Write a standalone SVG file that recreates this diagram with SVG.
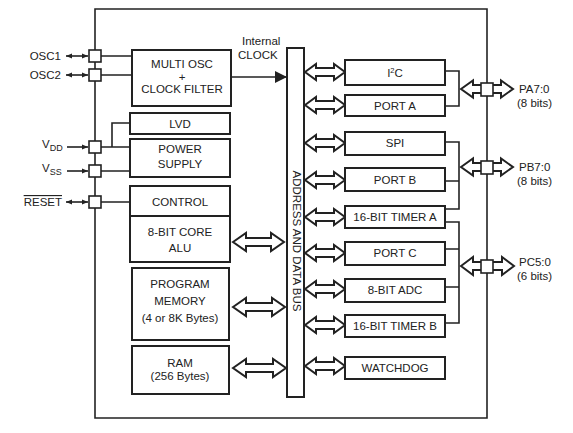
<svg xmlns="http://www.w3.org/2000/svg" width="573" height="433" viewBox="0 0 573 433">
<defs>
<style>
.box{fill:#fff;stroke:#222;stroke-width:2}
.ln{fill:none;stroke:#222;stroke-width:1.6}
.pin{fill:#fff;stroke:#222;stroke-width:1.6}
.fat{fill:#fff;stroke:#222;stroke-width:2;stroke-linejoin:miter}
text{font-family:"Liberation Sans",Arial,sans-serif;font-size:11.5px;fill:#222;text-anchor:middle}
.lt{text-anchor:start}
.rt{text-anchor:end}
</style>
<marker id="ah" viewBox="0 0 10 10" refX="10" refY="5" markerWidth="6" markerHeight="6" orient="auto-start-reverse" markerUnits="userSpaceOnUse"><path d="M0,1 L10,5 L0,9 Z" fill="#222"/></marker>
<marker id="bh" viewBox="0 0 10 10" refX="10" refY="5" markerWidth="12" markerHeight="12" orient="auto" markerUnits="userSpaceOnUse"><path d="M0,0 L10,5 L0,10 Z" fill="#222"/></marker>
</defs>
<rect width="573" height="433" fill="#fff"/>

<g id="outer"><path class="ln" d="M95,9 H487 V418 H95 Z"/></g>

<g id="connectors">
<line class="ln" x1="66" y1="56" x2="88" y2="56" marker-start="url(#ah)" marker-end="url(#ah)"/>
<line class="ln" x1="66" y1="75" x2="88" y2="75" marker-start="url(#ah)" marker-end="url(#ah)"/>
<line class="ln" x1="67" y1="147" x2="88" y2="147" marker-end="url(#ah)"/>
<line class="ln" x1="67" y1="171" x2="88" y2="171" marker-end="url(#ah)"/>
<line class="ln" x1="66" y1="202" x2="88" y2="202" marker-start="url(#ah)" marker-end="url(#ah)"/>
<path class="ln" d="M101,56 H132 M101,75 H132 M101,147 H130 M112,147 V123 H130 M101,171 H130 M101,202 H130"/>
<line class="ln" x1="231" y1="77" x2="287" y2="77" marker-end="url(#bh)"/>
<path class="ln" d="M445,71 H459 V106 H445"/>
<path class="ln" d="M445,142 H459 V209 H445 M445,181 H459"/>
<path class="ln" d="M445,222 H459 V323 H445 M445,249 H459 M445,287 H459"/>
<path class="fat" d="M233,242 L246,233 L246,238 L271,238 L271,233 L284,242 L271,251 L271,246 L246,246 L246,251 Z"/>
<path class="fat" d="M233,307 L246,298 L246,303 L272,303 L272,298 L285,307 L272,316 L272,311 L246,311 L246,316 Z"/>
<path class="fat" d="M233,368 L246,359 L246,364 L273,364 L273,359 L286,368 L273,377 L273,372 L246,372 L246,377 Z"/>
<g id="busarrows">
<path class="fat" transform="translate(0,72)" d="M305,0 L316,-8 L316,-4 L334,-4 L334,-8 L345,0 L334,8 L334,4 L316,4 L316,8 Z"/>
<path class="fat" transform="translate(0,105)" d="M305,0 L316,-8 L316,-4 L334,-4 L334,-8 L345,0 L334,8 L334,4 L316,4 L316,8 Z"/>
<path class="fat" transform="translate(0,143)" d="M305,0 L316,-8 L316,-4 L334,-4 L334,-8 L345,0 L334,8 L334,4 L316,4 L316,8 Z"/>
<path class="fat" transform="translate(0,180)" d="M305,0 L316,-8 L316,-4 L334,-4 L334,-8 L345,0 L334,8 L334,4 L316,4 L316,8 Z"/>
<path class="fat" transform="translate(0,217)" d="M305,0 L316,-8 L316,-4 L334,-4 L334,-8 L345,0 L334,8 L334,4 L316,4 L316,8 Z"/>
<path class="fat" transform="translate(0,253)" d="M305,0 L316,-8 L316,-4 L334,-4 L334,-8 L345,0 L334,8 L334,4 L316,4 L316,8 Z"/>
<path class="fat" transform="translate(0,289)" d="M305,0 L316,-8 L316,-4 L334,-4 L334,-8 L345,0 L334,8 L334,4 L316,4 L316,8 Z"/>
<path class="fat" transform="translate(0,325)" d="M305,0 L316,-8 L316,-4 L334,-4 L334,-8 L345,0 L334,8 L334,4 L316,4 L316,8 Z"/>
<path class="fat" transform="translate(0,366)" d="M305,0 L316,-8 L316,-4 L334,-4 L334,-8 L345,0 L334,8 L334,4 L316,4 L316,8 Z"/>
</g>
<path class="fat" transform="translate(0,89)" d="M461,0 L473,-8.5 L473,-4 L501,-4 L501,-8.5 L513,0 L501,8.5 L501,4 L473,4 L473,8.5 Z"/>
<path class="fat" transform="translate(0,167)" d="M461,0 L473,-8.5 L473,-4 L501,-4 L501,-8.5 L513,0 L501,8.5 L501,4 L473,4 L473,8.5 Z"/>
<path class="fat" transform="translate(0,266)" d="M461,0 L473,-9 L473,-4 L502,-4 L502,-9 L514,0 L502,9 L502,4 L473,4 L473,9 Z"/>
</g>

<g id="pins">
<rect class="pin" x="89" y="50" width="12" height="12"/>
<rect class="pin" x="89" y="69" width="12" height="12"/>
<rect class="pin" x="89" y="141" width="12" height="12"/>
<rect class="pin" x="89" y="165" width="12" height="12"/>
<rect class="pin" x="89" y="196" width="12" height="12"/>
<rect class="pin" x="481" y="83" width="12" height="13"/>
<rect class="pin" x="481" y="161" width="12" height="13"/>
<rect class="pin" x="481" y="260" width="12" height="13"/>
</g>

<g id="pin-labels">
<text class="rt" x="61" y="60">OSC1</text>
<text class="rt" x="61" y="79">OSC2</text>
<text class="lt" x="42" y="148">V<tspan font-size="9" dy="3">DD</tspan></text>
<text class="lt" x="42" y="172">V<tspan font-size="9" dy="3">SS</tspan></text>
<text class="rt" x="62" y="206" text-decoration="overline">RESET</text>
<text class="lt" x="519" y="93">PA7:0</text>
<text class="lt" x="517" y="107">(8 bits)</text>
<text class="lt" x="519" y="171">PB7:0</text>
<text class="lt" x="517" y="185">(8 bits)</text>
<text class="lt" x="519" y="266">PC5:0</text>
<text class="lt" x="517" y="280">(6 bits)</text>
<text class="lt" x="242" y="45">Internal</text>
<text class="lt" x="238" y="59">CLOCK</text>
</g>

<g id="osc"><rect class="box" x="132" y="50" width="99" height="56"/>
<text x="182" y="68" font-size="12">MULTI OSC</text><text x="182" y="81" font-size="12">+</text><text x="182" y="93" font-size="12">CLOCK FILTER</text></g>
<g id="lvd"><rect class="box" x="130" y="113" width="100" height="21"/><text x="180" y="128">LVD</text></g>
<g id="power"><rect class="box" x="130" y="139" width="100" height="38"/><text x="180" y="153">POWER</text><text x="180" y="168">SUPPLY</text></g>
<g id="control"><rect class="box" x="130" y="186" width="100" height="30"/><text x="180" y="206">CONTROL</text></g>
<g id="alu"><rect class="box" x="130" y="216" width="100" height="46"/><text x="180" y="236">8-BIT CORE</text><text x="180" y="252">ALU</text></g>
<g id="progmem"><rect class="box" x="132" y="268" width="97" height="72"/><text x="180" y="288">PROGRAM</text><text x="180" y="305">MEMORY</text><text x="180" y="322">(4 or 8K Bytes)</text></g>
<g id="ram"><rect class="box" x="132" y="346" width="97" height="48"/><text x="180" y="367">RAM</text><text x="180" y="380">(256 Bytes)</text></g>

<g id="bus"><rect class="box" x="287" y="48" width="17" height="349" stroke-width="1.6"/>
<text transform="translate(292.5,241) rotate(90)" font-size="9">ADDRESS AND DATA BUS</text></g>

<g id="i2c"><rect class="box" x="345" y="60" width="100" height="25"/><text x="395" y="77">I<tspan font-size="7.5" dy="-4">2</tspan><tspan dy="4">C</tspan></text></g>
<g id="porta"><rect class="box" x="345" y="95" width="100" height="21"/><text x="395" y="110">PORT A</text></g>
<g id="spi"><rect class="box" x="345" y="132" width="100" height="23"/><text x="395" y="147">SPI</text></g>
<g id="portb"><rect class="box" x="345" y="168" width="100" height="23"/><text x="395" y="184">PORT B</text></g>
<g id="timera"><rect class="box" x="345" y="206" width="100" height="22"/><text x="395" y="221">16-BIT TIMER A</text></g>
<g id="portc"><rect class="box" x="345" y="242" width="100" height="23"/><text x="395" y="257">PORT C</text></g>
<g id="adc"><rect class="box" x="345" y="279" width="100" height="23"/><text x="395" y="294">8-BIT ADC</text></g>
<g id="timerb"><rect class="box" x="345" y="315" width="100" height="22"/><text x="395" y="330">16-BIT TIMER B</text></g>
<g id="wdt"><rect class="box" x="345" y="357" width="100" height="22"/><text x="395" y="372">WATCHDOG</text></g>
</svg>
